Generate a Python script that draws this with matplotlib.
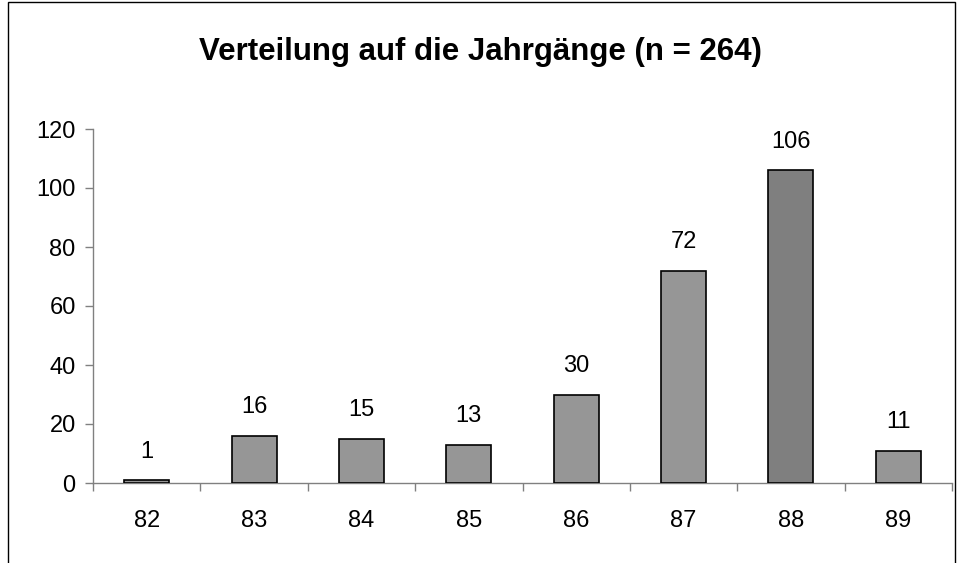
import matplotlib
matplotlib.use("Agg")
import matplotlib.pyplot as plt
from matplotlib.patches import Rectangle
import numpy as np

plt.rcParams['font.family'] = ['Liberation Sans', 'DejaVu Sans']

categories = ["82", "83", "84", "85", "86", "87", "88", "89"]
values = [1, 16, 15, 13, 30, 72, 106, 11]
highlight = "88"
title = "Verteilung auf die Jahrgänge (n = 264)"
yticks = [0, 20, 40, 60, 80, 100, 120]

fig = plt.figure(figsize=(9.6, 5.63), dpi=100)
fig.patch.set_facecolor("white")
# figure frame (left, top, right edges)
fig.add_artist(Rectangle((8/960, -0.05), (955-8)/960, 1.05 - 2/563, transform=fig.transFigure,
                         fill=False, edgecolor="black", linewidth=1.0))

ax = fig.add_axes([93/960, 1-483/563, (952-93)/960, (483-129)/563])
x = np.arange(len(categories))
colors = ["#7f7f7f" if c == highlight else "#969696" for c in categories]
bars = ax.bar(x, values, width=0.42, color=colors, edgecolor="black", linewidth=1.2, zorder=3)

ax.set_xlim(-0.5, len(categories) - 0.5)
ax.set_ylim(0, 120)
ax.set_yticks(yticks)
ax.set_xticks(x)
ax.set_xticklabels(categories)
ax.set_xticks(np.arange(-0.5, len(categories)), minor=True)

for s in ["top", "right"]:
    ax.spines[s].set_visible(False)
for s in ["left", "bottom"]:
    ax.spines[s].set_color("#808080")
    ax.spines[s].set_linewidth(1.0)

ax.tick_params(axis="y", direction="out", length=5.5, width=1.0, color="#808080",
               labelsize=17, pad=7)
ax.tick_params(axis="x", which="major", length=0, labelsize=17, pad=19.5)
ax.tick_params(axis="x", which="minor", direction="out", length=5.5, width=1.0, color="#808080")

for xi, v in zip(x, values):
    ax.annotate(str(v), (xi, v), xytext=(0, 12.5), textcoords="offset points",
                ha="center", va="bottom", fontsize=17)

fig.text(0.5, 1 - 52/563, title, ha="center", va="center", fontsize=22.5, fontweight="bold")

fig.savefig("out.png", dpi=100)
